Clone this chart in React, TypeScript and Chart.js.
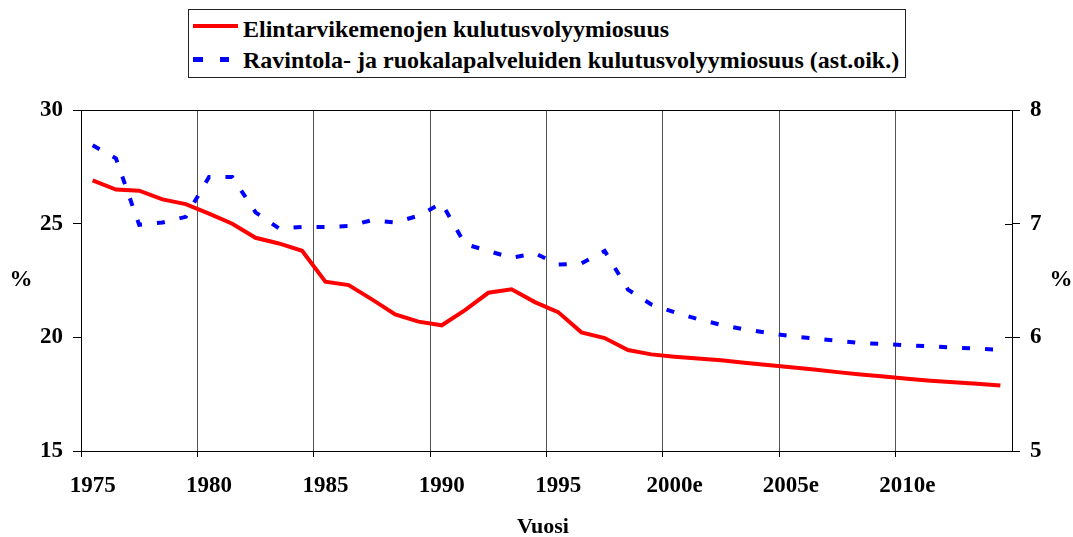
import React, { useEffect, useRef } from 'react';
import { Chart, registerables } from 'chart.js';

Chart.register(...registerables);

const categories = [
  '1975', '1976', '1977', '1978', '1979', '1980', '1981', '1982', '1983', '1984',
  '1985', '1986', '1987', '1988', '1989', '1990', '1991', '1992', '1993', '1994',
  '1995', '1996', '1997', '1998', '1999', '2000e', '2001e', '2002e', '2003e', '2004e',
  '2005e', '2006e', '2007e', '2008e', '2009e', '2010e', '2011e', '2012e', '2013e', '2014e',
];

const foodShare = [
  26.9, 26.5, 26.45, 26.07, 25.86, 25.44, 25.0, 24.38, 24.13, 23.81,
  22.45, 22.3, 21.67, 21.01, 20.69, 20.53, 21.2, 21.96, 22.11, 21.55,
  21.11, 20.22, 19.97, 19.44, 19.25, 19.15, 19.07, 18.99, 18.88, 18.78,
  18.68, 18.58, 18.47, 18.37, 18.28, 18.18, 18.09, 18.02, 17.96, 17.88,
];

const restaurantShare = [
  7.69, 7.575, 6.99, 7.01, 7.06, 7.41, 7.41, 7.1, 6.96, 6.97,
  6.97, 6.98, 7.03, 7.01, 7.07, 7.18, 6.82, 6.76, 6.7, 6.74,
  6.64, 6.65, 6.76, 6.42, 6.29, 6.22, 6.16, 6.11, 6.07, 6.04,
  6.01, 5.99, 5.97, 5.95, 5.94, 5.93, 5.92, 5.91, 5.9, 5.89,
];

const seriesNames = [
  'Elintarvikemenojen kulutusvolyymiosuus',
  'Ravintola- ja ruokalapalveluiden kulutusvolyymiosuus (ast.oik.)',
];
const xTitle = 'Vuosi';
const yTitle = '%';
const leftRange = [15, 30, 5];
const rightRange = [5, 8, 1];
const labelEvery = 5;

const FONT = 'Liberation Serif';

const framePlugin = {
  id: 'frame',
  afterDraw(chart: any) {
    const { ctx, chartArea } = chart;
    const { left, right, top } = chartArea;
    ctx.save();
    ctx.strokeStyle = '#000';
    ctx.lineWidth = 1;
    ctx.beginPath();
    ctx.moveTo(left, top + 0.5);
    ctx.lineTo(right, top + 0.5);
    ctx.stroke();
    const yr = chart.scales.y1;
    yr.ticks.forEach((t: any) => {
      const py = Math.round(yr.getPixelForValue(t.value)) + 0.5;
      ctx.beginPath();
      ctx.moveTo(right - 7, py);
      ctx.lineTo(right, py);
      ctx.stroke();
    });
    ctx.fillStyle = '#000';
    ctx.font = `bold 23px "${FONT}", serif`;
    ctx.textAlign = 'center';
    ctx.textBaseline = 'middle';
    ctx.fillText(yTitle, 21, 280);
    ctx.fillText(yTitle, 1061, 280);
    ctx.font = `bold 22px "${FONT}", serif`;
    ctx.textBaseline = 'alphabetic';
    ctx.fillText(xTitle, 543, 533);
    ctx.restore();
  },
};

export default function App() {
  const ref = useRef<HTMLCanvasElement>(null);

  useEffect(() => {
    if (!ref.current) return;
    Chart.defaults.font.family = `"${FONT}", serif`;
    Chart.defaults.color = '#000';
    const tickFont = { size: 23, weight: 'bold', family: `"${FONT}", serif` };
    const chart = new Chart(ref.current, {
      type: 'line',
      data: {
        labels: categories,
        datasets: [
          {
            label: seriesNames[0],
            data: foodShare,
            borderColor: '#ff0000',
            backgroundColor: '#ff0000',
            borderWidth: 4,
            pointRadius: 0,
            tension: 0,
            yAxisID: 'y',
          },
          {
            label: seriesNames[1],
            data: restaurantShare,
            borderColor: '#0000ff',
            backgroundColor: '#0000ff',
            borderWidth: 4,
            borderDash: [8, 15],
            pointRadius: 0,
            tension: 0,
            yAxisID: 'y1',
          },
        ],
      },
      options: {
        animation: false,
        responsive: true,
        maintainAspectRatio: false,
        layout: { padding: { top: 110, left: 0, right: 0, bottom: 0 } },
        plugins: {
          legend: { display: false },
          tooltip: { enabled: false },
        },
        scales: {
          x: {
            type: 'category',
            offset: true,
            grid: {
              offset: true,
              drawOnChartArea: true,
              color: (c: any) => (c.index % labelEvery === 0 && c.index !== 0 ? '#555' : 'rgba(0,0,0,0)'),
              tickColor: (c: any) => (c.index % labelEvery === 0 ? '#000' : 'rgba(0,0,0,0)'),
              tickLength: 6,
              lineWidth: 1,
            },
            border: { display: true, color: '#000', width: 1 },
            ticks: {
              autoSkip: false,
              maxRotation: 0,
              minRotation: 0,
              padding: 15,
              font: tickFont,
              color: '#000',
              callback: (_v: any, i: number) => (i % labelEvery === 0 ? categories[i] : ''),
            },
            title: { display: false },
            afterFit: (s: any) => { s.height = 86; },
          },
          y: {
            type: 'linear',
            position: 'left',
            min: leftRange[0],
            max: leftRange[1],
            ticks: { stepSize: leftRange[2], padding: 10, font: tickFont, color: '#000' },
            grid: { drawOnChartArea: false, tickLength: 8, tickColor: '#000' },
            border: { display: true, color: '#000', width: 1 },
            afterFit: (s: any) => { s.width = 81; },
          },
          y1: {
            type: 'linear',
            position: 'right',
            min: rightRange[0],
            max: rightRange[1],
            ticks: { stepSize: rightRange[2], padding: 10, font: tickFont, color: '#000' },
            grid: { drawOnChartArea: false, tickLength: 8, tickColor: '#000' },
            border: { display: true, color: '#000', width: 1 },
            afterFit: (s: any) => { s.width = 61; },
          },
        },
      },
      plugins: [framePlugin],
    } as any);
    return () => chart.destroy();
  }, []);

  const textStyle: React.CSSProperties = {
    fontFamily: `"${FONT}", serif`,
    fontWeight: 'bold',
    fontSize: 24,
    color: '#000',
    whiteSpace: 'nowrap',
    lineHeight: '24px',
  };

  return (
    <div style={{ position: 'fixed', left: 0, top: 0, width: 1073, height: 537, background: '#fff' }}>
      <canvas ref={ref} />
      <div
        style={{
          position: 'absolute',
          left: 188,
          top: 9,
          width: 718,
          height: 69,
          border: '1px solid #222',
          boxSizing: 'border-box',
          background: '#fff',
        }}
      >
        <div style={{ position: 'absolute', left: 4, top: 14, width: 45, height: 4, background: '#ff0000' }} />
        <div style={{ position: 'absolute', left: 4, top: 47, width: 10, height: 5, background: '#0000ff' }} />
        <div style={{ position: 'absolute', left: 31, top: 47, width: 9, height: 5, background: '#0000ff' }} />
        <div style={{ ...textStyle, position: 'absolute', left: 54, top: 7 }}>{seriesNames[0]}</div>
        <div style={{ ...textStyle, position: 'absolute', left: 54, top: 38 }}>{seriesNames[1]}</div>
      </div>
    </div>
  );
}
